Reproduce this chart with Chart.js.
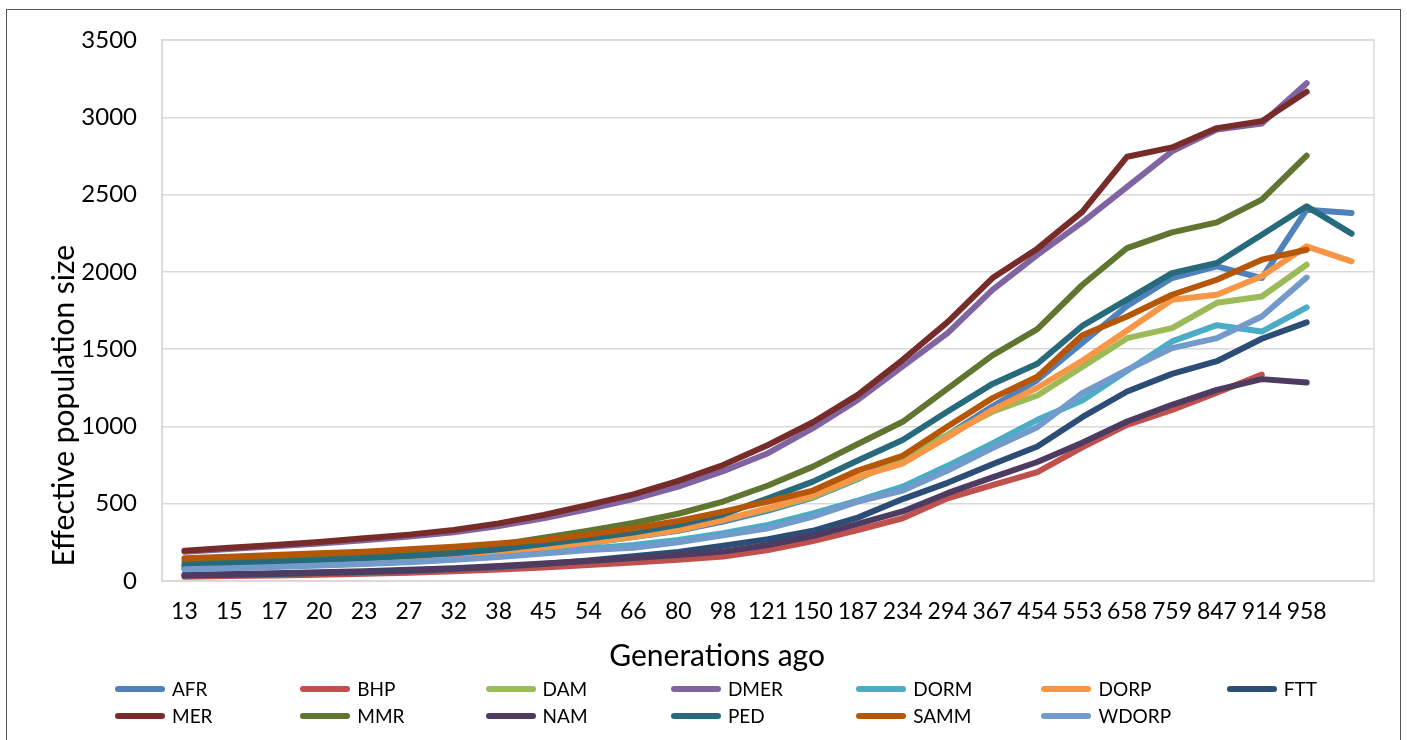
<!DOCTYPE html>
<html>
<head>
<meta charset="utf-8">
<title>Effective population size</title>
<script src="https://cdn.jsdelivr.net/npm/chart.js@4.4.1/dist/chart.umd.min.js"></script>
<style>
  html, body { margin: 0; padding: 0; background: #fff; }
  #wrap { position: relative; width: 1407px; height: 740px; overflow: hidden; }
  #frame { position: absolute; left: 6px; top: 9px; width: 1395px; height: 760px;
           border: 1.5px solid #555; box-sizing: border-box; }
  #chart { position: absolute; left: 0; top: 0; }
  #legend { position: absolute; left: 115px; top: 677px; width: 1290px;
            display: grid; grid-template-columns: repeat(7, 185.3px); row-gap: 4px;
            font-family: Lato, sans-serif; font-size: 19px; color: #000; }
  .item { display: flex; align-items: center; height: 23px; }
  .swatch { width: 50px; height: 6px; border-radius: 3px; margin-right: 7px; }
</style>
</head>
<body>
<div id="wrap">
  <div id="frame"></div>
  <canvas id="chart" width="1407" height="740"></canvas>
  <div id="legend"></div>
</div>
<script>
// Generations ago (last category has no label)
const generations = ['13', '15', '17', '20', '23', '27', '32', '38', '45', '54', '66', '80', '98', '121',
  '150', '187', '234', '294', '367', '454', '553', '658', '759', '847', '914', '958', ''];

const populations = ['AFR', 'BHP', 'DAM', 'DMER', 'DORM', 'DORP', 'FTT', 'MER', 'MMR', 'NAM', 'PED', 'SAMM', 'WDORP'];

const colors = ['#4F81BD', '#C0504D', '#9BBB59', '#8064A2', '#4BACC6', '#F79646', '#2C4D75',
  '#772C2A', '#5F7530', '#4D3B62', '#276A7C', '#B65708', '#729ACA'];

// Effective population size per population
const afr = [90, 98, 107, 117, 128, 142, 160, 182, 210, 245, 285, 325, 385, 455, 540, 660, 800, 945, 1130, 1300, 1540, 1780, 1960, 2035, 1960, 2402, 2381];
const bhp = [28, 32, 36, 41, 47, 54, 63, 74, 88, 103, 119, 138, 158, 201, 258, 330, 406, 535, 620, 705, 865, 1010, 1107, 1219, 1335, null, null];
const dam = [85, 93, 102, 112, 124, 138, 155, 178, 210, 245, 285, 330, 395, 465, 545, 665, 780, 945, 1095, 1200, 1385, 1571, 1636, 1800, 1841, 2046, null];
const dmer = [190, 207, 224, 243, 264, 288, 315, 355, 405, 465, 530, 610, 710, 827, 989, 1172, 1388, 1604, 1884, 2110, 2320, 2550, 2780, 2920, 2960, 3220, null];
const dorm = [80, 87, 95, 104, 114, 126, 141, 160, 185, 210, 233, 265, 309, 363, 438, 520, 610, 745, 890, 1043, 1167, 1360, 1550, 1655, 1614, 1770, null];
const dorp = [95, 103, 112, 122, 133, 146, 163, 185, 215, 250, 287, 330, 395, 471, 555, 675, 760, 930, 1107, 1250, 1425, 1620, 1820, 1852, 1971, 2165, 2068];
const ftt = [35, 40, 45, 51, 58, 67, 78, 92, 110, 132, 160, 188, 228, 270, 325, 410, 530, 635, 755, 870, 1060, 1226, 1340, 1422, 1567, 1673, null];
const mer = [196, 215, 233, 253, 276, 300, 330, 373, 427, 492, 560, 648, 750, 880, 1027, 1204, 1431, 1675, 1960, 2150, 2388, 2745, 2805, 2930, 2975, 3165, null];
const mmr = [125, 135, 146, 158, 172, 188, 207, 235, 280, 325, 375, 435, 514, 618, 740, 886, 1030, 1245, 1460, 1630, 1915, 2154, 2255, 2320, 2467, 2752, null];
const nam = [40, 45, 50, 56, 63, 72, 83, 97, 113, 130, 148, 168, 190, 233, 290, 370, 450, 568, 670, 770, 895, 1032, 1140, 1237, 1306, 1284, null];
const ped = [104, 113, 123, 134, 147, 162, 180, 205, 240, 275, 314, 363, 430, 535, 643, 780, 912, 1096, 1275, 1405, 1650, 1820, 1992, 2057, 2240, 2424, 2247];
const samm = [147, 157, 168, 180, 190, 205, 222, 242, 265, 300, 341, 388, 449, 514, 585, 715, 810, 1000, 1183, 1321, 1590, 1711, 1852, 1949, 2079, 2143, null];
const wdorp = [76, 83, 91, 100, 110, 122, 137, 155, 178, 200, 215, 250, 295, 341, 417, 514, 585, 715, 860, 995, 1215, 1366, 1507, 1571, 1711, 1963, null];

const seriesValues = [afr, bhp, dam, dmer, dorm, dorp, ftt, mer, mmr, nam, ped, samm, wdorp];

const yTicks = [0, 500, 1000, 1500, 2000, 2500, 3000, 3500];

// Axis titles are placed a bit off-centre, like the original
const axisTitles = {
  id: 'axisTitles',
  afterDraw(chart) {
    const { ctx, chartArea } = chart;
    ctx.save();
    ctx.fillStyle = '#000';
    ctx.font = '30px Lato, sans-serif';
    ctx.textAlign = 'center';
    ctx.textBaseline = 'middle';
    ctx.fillText('Generations ago', chartArea.left + chartArea.width * 0.458, 656);
    ctx.translate(64, chartArea.top + chartArea.height * 0.676);
    ctx.rotate(-Math.PI / 2);
    ctx.fillText('Effective population size', 0, 0);
    ctx.restore();
  }
};

// light grey border round the plot area
const plotBorder = {
  id: 'plotBorder',
  beforeDatasetsDraw(chart) {
    const { ctx, chartArea } = chart;
    ctx.save();
    ctx.strokeStyle = '#d9d9d9';
    ctx.lineWidth = 1.5;
    ctx.strokeRect(chartArea.left, chartArea.top, chartArea.width, chartArea.height);
    ctx.restore();
  }
};

const datasets = populations.map((name, i) => ({
  label: name,
  data: seriesValues[i],
  borderColor: colors[i],
  backgroundColor: colors[i],
  borderWidth: 6,
  borderCapStyle: 'round',
  borderJoinStyle: 'round',
  pointRadius: 0,
  pointHoverRadius: 0,
  tension: 0,
  fill: false,
  spanGaps: false,
  order: -i // later series drawn on top, as in the original
}));

new Chart(document.getElementById('chart'), {
  type: 'line',
  data: { labels: generations, datasets },
  options: {
    responsive: false,
    animation: false,
    layout: { padding: { left: 0, top: 40, right: 33, bottom: 0 } },
    plugins: {
      legend: { display: false },
      tooltip: { enabled: false }
    },
    scales: {
      x: {
        offset: true,
        grid: { display: false, drawTicks: false },
        border: { display: true, color: '#d9d9d9', width: 1.5 },
        ticks: {
          autoSkip: false,
          maxRotation: 0,
          padding: 17,
          color: '#000',
          font: { family: 'Lato, sans-serif', size: 23 }
        },
        afterFit(scale) { scale.height = 159; }
      },
      y: {
        min: 0,
        max: 3500,
        afterBuildTicks(scale) { scale.ticks = yTicks.map(v => ({ value: v })); },
        grid: { color: '#d9d9d9', lineWidth: 1.5, drawTicks: false },
        border: { display: true, color: '#d9d9d9', width: 1.5 },
        ticks: {
          padding: 25,
          color: '#000',
          font: { family: 'Lato, sans-serif', size: 24 },
          callback: value => String(value)
        },
        afterFit(scale) { scale.width = 162; }
      }
    }
  },
  plugins: [plotBorder, axisTitles]
});

// HTML legend in Excel's grid layout
const legendEl = document.getElementById('legend');
populations.forEach((name, i) => {
  const item = document.createElement('div');
  item.className = 'item';
  item.innerHTML = `<span class="swatch" style="background:${colors[i]}"></span><span>${name}</span>`;
  legendEl.appendChild(item);
});
</script>
</body>
</html>
